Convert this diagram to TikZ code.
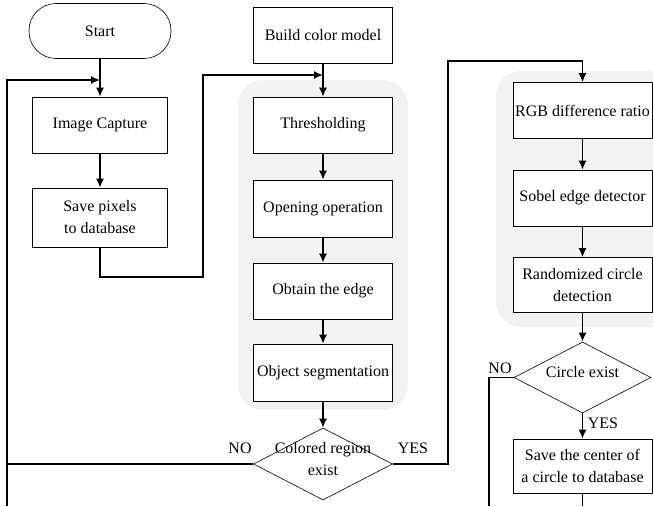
\documentclass[tikz,border=0pt]{standalone}
\usepackage{fontspec}
\setmainfont{Liberation Serif}
\usetikzlibrary{arrows.meta,shapes.geometric}

\newcommand{\decisionText}[1]{\smash{\makebox[0pt]{\begin{tabular}{@{}c@{}}#1\end{tabular}}}}

\begin{document}
\begin{tikzpicture}
[x=1pt,y=-1pt,
  every node/.style={font=\fontsize{16}{22}\selectfont},%
  processBox/.style={draw,semithick,fill=white,minimum width=139pt,
    minimum height=56pt,align=center,inner sep=2pt},
  startBox/.style={processBox,rounded corners=27pt,minimum width=142pt,
    minimum height=55pt},
  decisionBox/.style={draw,semithick,diamond,fill=white,inner sep=0pt,
    minimum width=139pt,minimum height=72pt},
  regionFill/.style={fill=black!5,rounded corners=25pt},
  flowLine/.style={-,line width=1.6pt},
  flowArrow/.style={-{Latex[length=9pt,width=8pt]},line width=1.6pt}]
\useasboundingbox (0,0) rectangle (653,506);

% shaded groups
\begin{scope}
\clip (0,0) rectangle (653,506);
\fill[regionFill] (238,80) rectangle (408,410);
\fill[regionFill] (496,71) rectangle (680,327);
\end{scope}

% first column
\node[startBox] (start) at (100,31) {Start};
\node[processBox,minimum width=135pt] (capture) at (100,125) {Image Capture};
\node[processBox,minimum width=135pt,minimum height=59pt] (savePixels)
  at (100,217.5) {Save pixels\\to database};

% second column
\node[processBox] (buildColor) at (323,35) {Build color model};
\node[processBox] (thresholding) at (323,125) {Thresholding};
\node[processBox,minimum height=57pt] (opening) at (323,208.5) {Opening operation};
\node[processBox] (obtainEdge) at (323,291) {Obtain the edge};
\node[processBox,minimum height=57pt] (segmentation) at (323,372.5)
  {Object segmentation};
\node[decisionBox] (colorDecision) at (323,464)
  {\decisionText{Colored region\\exist}};

% third column
\node[processBox] (rgbRatio) at (582.5,110.5) {RGB difference ratio};
\node[processBox] (sobel) at (582.5,198) {Sobel edge detector};
\node[processBox,minimum height=55pt] (randomCircle) at (582.5,285)
  {Randomized circle\\detection};
\node[decisionBox,minimum width=137pt,minimum height=71pt] (circleDecision)
  at (582.5,377.5) {\decisionText{Circle exist}};
\node[processBox,minimum height=54pt] (saveCenter) at (582.5,466)
  {Save the center of\\a circle to database};

% answers
\node (noColor) at (240,448) {NO};
\node (yesColor) at (413,448) {YES};
\node (noCircle) at (500,368) {NO};
\node (yesCircle) at (603,423) {YES};

% turning points
\coordinate (joinA) at (100,80);
\coordinate (leftBottom) at (7,506);
\coordinate (leftMid) at (7,464);
\coordinate (turnA) at (203,277);
\coordinate (joinB) at (323,75);
\coordinate (turnC) at (448,61);
\coordinate (rightBottom) at (489,506);
\coordinate (centerBottom) at (582.5,506);

\path
\foreach \startNode/\endNode in {
  start/capture, capture/savePixels, buildColor/thresholding,
  thresholding/opening, opening/obtainEdge, obtainEdge/segmentation,
  segmentation/colorDecision, rgbRatio/sobel, sobel/randomCircle,
  randomCircle/circleDecision, circleDecision/saveCenter}
{
  (\startNode) edge[flowArrow] (\endNode)
};

\draw[flowArrow] (leftBottom) |- (joinA);
\draw[flowArrow] (savePixels.south) |- (turnA) |- (joinB);
\draw[flowLine] (colorDecision.west) -- (leftMid);
\draw[flowArrow] (colorDecision.east) -| (turnC) -| (rgbRatio.north);
\draw[flowLine] (circleDecision.west) -| (rightBottom);
\draw[flowLine] (saveCenter.south) -- (centerBottom);
\end{tikzpicture}
\end{document}
